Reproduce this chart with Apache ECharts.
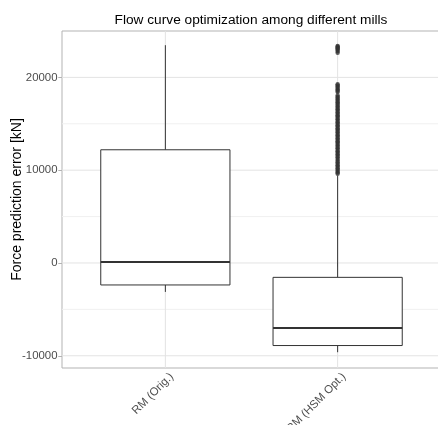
<!DOCTYPE html>
<html>
<head>
<meta charset="utf-8">
<script src="https://cdn.jsdelivr.net/npm/echarts@6/dist/echarts.min.js"></script>
<style>html,body{margin:0;padding:0;background:#fff}#c{width:438px;height:425px}</style>
</head>
<body>
<div id="c"></div>
<script>
// ---- data ----
const categories = ['RM (Orig.)', 'RM (HSM Opt.)'];
const whiskerLow = [-3120, -9620];
const q1 = [-2370, -8900];
const median = [100, -7000];
const q3 = [12200, -1550];
const whiskerHigh = [23470, 9400];
const outliersHSM = [
  23380, 23300, 23200, 23120, 22980, 22850, 22650,
  19270, 19130, 18980, 18850, 18700, 18560, 18420,
  18050, 17900, 17780, 17620, 17450, 17330, 17160, 17020, 16870, 16700,
  16560, 16400, 16250, 16080, 15930, 15790, 15620, 15480, 15300, 15160,
  15000, 14850, 14700, 14530, 14390, 14220, 14080, 13900, 13760, 13600,
  13450, 13290, 13130, 12980, 12820, 12660, 12500, 12350, 12180, 12030,
  11870, 11720, 11560, 11400, 11200, 11020, 10850, 10680, 10520, 10380,
  10200, 10050, 9900, 9760, 9620
];
const yMajor = [-10000, 0, 10000, 20000];
const yMinor = [-5000, 5000, 15000];
const xPositions = [1, 2];
const titleText = 'Flow curve optimization among different mills';
const yTitle = 'Force prediction error [kN]';

// ---- chart ----
const FONT = '"Liberation Sans", Arial, Helvetica, sans-serif';
const BOX_COLOR = '#333333';
const chart = echarts.init(document.getElementById('c'), null, {renderer: 'canvas'});

const boxData = categories.map((c, i) => [xPositions[i], whiskerLow[i], q1[i], median[i], q3[i], whiskerHigh[i]]);
const gridHData = yMajor.map(v => [1, v, 0]).concat(yMinor.map(v => [1, v, 1]));
const gridVData = xPositions.map(x => [x, 0]);

const option = {
  animation: false,
  backgroundColor: '#ffffff',
  title: {
    text: titleText,
    left: 251,
    top: 13,
    textAlign: 'center',
    padding: 0,
    textStyle: {fontFamily: FONT, fontSize: 13.7, fontWeight: 'normal', color: '#000'}
  },
  grid: {
    left: 62, top: 31, right: -3, bottom: 57,
    outerBoundsMode: 'none', containLabel: false,
    show: true, borderColor: '#b3b3b3', borderWidth: 1, backgroundColor: '#fff'
  },
  xAxis: {
    type: 'value', min: 0.4, max: 2.6,
    axisLine: {show: false},
    splitLine: {show: false},
    axisTick: {show: true, length: 3.7, lineStyle: {color: '#b3b3b3'}, customValues: xPositions},
    axisLabel: {
      customValues: xPositions,
      rotate: 45, margin: 0.6,
      align: 'right', verticalAlign: 'top', lineHeight: 18,
      fontFamily: FONT, fontSize: 11.4, color: '#4d4d4d',
      formatter: v => categories[xPositions.indexOf(v)] || ''
    }
  },
  yAxis: {
    type: 'value', min: -11320, max: 25000,
    name: yTitle, nameLocation: 'middle', nameGap: 38, nameMoveOverlap: false,
    nameTextStyle: {fontFamily: FONT, fontSize: 14, color: '#000'},
    axisLine: {show: false},
    splitLine: {show: false},
    axisTick: {show: true, length: 3.7, lineStyle: {color: '#b3b3b3'}, customValues: yMajor},
    axisLabel: {customValues: yMajor, margin: 4.5, fontFamily: FONT, fontSize: 11.4, color: '#4d4d4d',
      formatter: v => String(v)}
  },
  series: [
    {
      type: 'custom', name: 'gridH', silent: true, z: 0,
      data: gridHData,
      renderItem: (params, api) => {
        const p = api.coord([1, api.value(1)]);
        const cs = params.coordSys;
        const minor = api.value(2) === 1;
        return {type: 'line', shape: {x1: cs.x, y1: p[1], x2: cs.x + cs.width, y2: p[1]},
          style: {stroke: minor ? '#f0f0f0' : '#e3e3e3', lineWidth: 1}};
      }
    },
    {
      type: 'custom', name: 'gridV', silent: true, z: 0,
      data: gridVData,
      renderItem: (params, api) => {
        const p = api.coord([api.value(0), 0]);
        const cs = params.coordSys;
        return {type: 'line', shape: {x1: p[0], y1: cs.y, x2: p[0], y2: cs.y + cs.height},
          style: {stroke: '#e3e3e3', lineWidth: 1}};
      }
    },
    {
      type: 'custom', name: 'box', z: 2,
      data: boxData,
      renderItem: (params, api) => {
        const x = api.value(0);
        const lo = api.coord([x, api.value(1)]);
        const b1 = api.coord([x, api.value(2)]);
        const md = api.coord([x, api.value(3)]);
        const b3 = api.coord([x, api.value(4)]);
        const hi = api.coord([x, api.value(5)]);
        const half = api.size([0.75, 0])[0] / 2;
        return {type: 'group', children: [
          {type: 'line', shape: {x1: lo[0], y1: lo[1], x2: b1[0], y2: b1[1]}, style: {stroke: BOX_COLOR, lineWidth: 1}},
          {type: 'line', shape: {x1: b3[0], y1: b3[1], x2: hi[0], y2: hi[1]}, style: {stroke: BOX_COLOR, lineWidth: 1}},
          {type: 'rect', shape: {x: b1[0] - half, y: b3[1], width: half * 2, height: b1[1] - b3[1]},
            style: {fill: '#fff', stroke: BOX_COLOR, lineWidth: 1}},
          {type: 'line', shape: {x1: md[0] - half, y1: md[1], x2: md[0] + half, y2: md[1]}, style: {stroke: BOX_COLOR, lineWidth: 2}}
        ]};
      }
    },
    {
      type: 'scatter', name: 'outliers', z: 3,
      data: outliersHSM.map(v => [2, v]),
      symbol: 'circle', symbolSize: 4.4,
      itemStyle: {color: '#333333'}
    }
  ]
};
chart.setOption(option);
</script>
</body>
</html>
